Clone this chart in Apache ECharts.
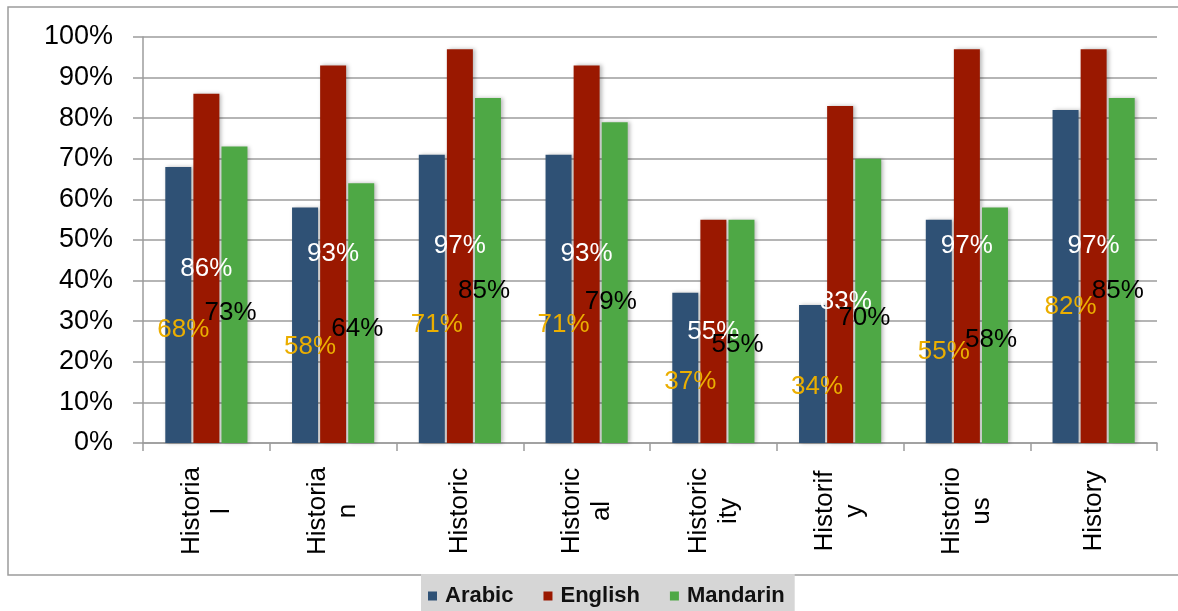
<!DOCTYPE html>
<html>
<head>
<meta charset="utf-8">
<script src="https://cdn.jsdelivr.net/npm/echarts@6/dist/echarts.min.js"></script>
<style>
  html, body { margin: 0; padding: 0; background: #fff; }
  #chart { width: 1178px; height: 611px; }
</style>
</head>
<body>
<div id="chart"></div>
<script>
// Word forms on the category axis (line breaks as printed)
const categories = ['Historia\nl', 'Historia\nn', 'Historic', 'Historic\nal', 'Historic\nity', 'Historif\ny', 'Historio\nus', 'History'];
// Percentages per language
const arabic   = [68, 58, 71, 71, 37, 34, 55, 82];
const english  = [86, 93, 97, 93, 55, 83, 97, 97];
const mandarin = [73, 64, 85, 79, 55, 70, 58, 85];
const seriesNames = ['Arabic', 'English', 'Mandarin'];

const FONT = '"Liberation Sans", Arial, sans-serif';
const colors = ['#2F5175', '#9A1800', '#4EA845'];

const chart = echarts.init(document.getElementById('chart'), null, { renderer: 'canvas' });

// Visible bars on the main category axis
function barSeries(name, data, color) {
  return {
    name: name,
    type: 'bar',
    xAxisIndex: 0,
    data: data,
    barWidth: 26,
    barGap: '8%',
    z: 2,
    itemStyle: {
      color: color,
      shadowColor: 'rgba(0,0,0,0.28)',
      shadowBlur: 4,
      shadowOffsetX: 2,
      shadowOffsetY: 0
    },
    label: { show: false }
  };
}

// Transparent twins on a hidden overlay axis so every value label sits above all bars
function labelSeries(name, data, label, overrides) {
  const items = data.map(function (v, i) {
    return overrides && overrides[i] ? { value: v, label: overrides[i] } : v;
  });
  return {
    name: name + ' ',
    type: 'bar',
    xAxisIndex: 1,
    data: items,
    barWidth: 26,
    barGap: '8%',
    z: 10,
    silent: true,
    itemStyle: { color: 'rgba(0,0,0,0)' },
    label: Object.assign({
      show: true,
      formatter: '{c}%',
      fontFamily: FONT,
      fontSize: 26,
      align: 'center',
      verticalAlign: 'middle'
    }, label)
  };
}

const xAxisBase = {
  type: 'category',
  data: categories,
  boundaryGap: true
};

chart.setOption({
  animation: false,
  backgroundColor: '#ffffff',
  color: colors,
  grid: { left: 143, right: 21, top: 37, bottom: 168, containLabel: false },
  graphic: [{
    type: 'rect',
    shape: { x: 8, y: 7, width: 1185, height: 568 },
    style: { fill: 'none', stroke: '#9c9c9c', lineWidth: 1.5 },
    silent: true,
    z: -1
  }],
  legend: {
    data: seriesNames,
    bottom: -8,
    left: 421,
    icon: 'rect',
    itemWidth: 9,
    itemHeight: 9,
    itemGap: 30,
    padding: [11, 10, 12, 7],
    backgroundColor: '#d6d6d6',
    textStyle: {
      fontFamily: FONT,
      fontWeight: 'bold',
      fontSize: 22,
      color: '#111',
      padding: [0, 0, 0, 3]
    }
  },
  xAxis: [
    Object.assign({}, xAxisBase, {
      axisLine: { show: true, lineStyle: { color: '#9c9c9c', width: 1.5 } },
      axisTick: { show: true, length: 8, alignWithLabel: false, lineStyle: { color: '#9c9c9c', width: 1.5 } },
      axisLabel: {
        rotate: 90,
        interval: 0,
        align: 'center',
        verticalAlign: 'middle',
        margin: 68,
        fontFamily: FONT,
        fontSize: 26,
        lineHeight: 30,
        color: '#000'
      },
      splitLine: { show: false }
    }),
    Object.assign({}, xAxisBase, { show: false })
  ],
  yAxis: {
    type: 'value',
    min: 0,
    max: 100,
    interval: 10,
    axisLine: { show: true, lineStyle: { color: '#9c9c9c', width: 1.5 } },
    axisTick: { show: true, length: 10, lineStyle: { color: '#9c9c9c', width: 1.5 } },
    axisLabel: {
      formatter: '{value}%',
      margin: 30,
      fontFamily: FONT,
      fontSize: 27,
      color: '#000'
    },
    splitLine: { show: true, lineStyle: { color: '#9c9c9c', width: 1.5 } }
  },
  series: [
    barSeries(seriesNames[0], arabic, colors[0]),
    barSeries(seriesNames[1], english, colors[1]),
    barSeries(seriesNames[2], mandarin, colors[2]),
    labelSeries(seriesNames[0], arabic, { position: ['69%', '59%'], color: '#EBAE00' }),
    // the Historify label is nudged down onto the neighbouring bars so it stays legible
    labelSeries(seriesNames[1], english, { position: ['50%', '50%'], color: '#ffffff' },
      { 5: { position: ['72%', '58%'] } }),
    labelSeries(seriesNames[2], mandarin, { position: ['35%', '56%'], color: '#000000' })
  ]
});
</script>
</body>
</html>
